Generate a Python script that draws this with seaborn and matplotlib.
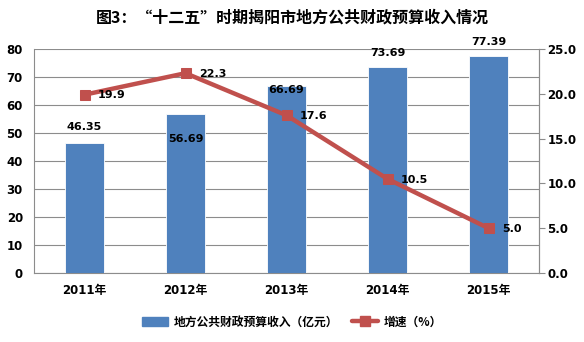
import numpy as np
import matplotlib
matplotlib.use("Agg")
import matplotlib.pyplot as plt
import seaborn as sns
from matplotlib.patches import Patch
from matplotlib.lines import Line2D

years = ["2011年", "2012年", "2013年", "2014年", "2015年"]
revenue = [46.35, 56.69, 66.69, 73.69, 77.39]
growth = [19.9, 22.3, 17.6, 10.5, 5.0]
revenue_labels = ["46.35", "56.69", "66.69", "73.69", "77.39"]
growth_labels = ["19.9", "22.3", "17.6", "10.5", "5.0"]

sns.set_style("white")
plt.rcParams['font.family'] = ['DejaVu Sans', 'Noto Sans CJK SC']
plt.rcParams['font.weight'] = 'bold'
plt.rcParams['text.color'] = 'black'
plt.rcParams['xtick.color'] = 'black'
plt.rcParams['ytick.color'] = 'black'

BAR = "#4F81BD"
LINE = "#C0504D"
GRID = "#8C8C8C"

fig = plt.figure(figsize=(5.84, 3.42), dpi=100)
ax = fig.add_axes([34/584, 1-273/342, (539-34)/584, (273-49)/342])

sns.barplot(x=years, y=revenue, color=BAR, saturation=1, width=0.39, ax=ax, zorder=3,
            edgecolor="white", linewidth=0.6)
ax.set_ylim(0, 80)
ax.set_yticks(np.arange(0, 81, 10))
ax.set_xlim(-0.5, 4.5)
ax.yaxis.grid(True, color=GRID, linewidth=0.8, zorder=0)
ax.set_axisbelow(True)
ax.set_xlabel("")
ax.set_ylabel("")
ax.spines["top"].set_visible(False)
for s in ["left", "bottom", "right"]:
    ax.spines[s].set_color(GRID)
    ax.spines[s].set_linewidth(0.8)
ax.tick_params(axis='y', length=0, labelsize=8.5, pad=8, labelcolor='black')
ax.tick_params(axis='x', length=0, labelsize=8.5, pad=8, labelcolor='black')
for lab in ax.get_xticklabels() + ax.get_yticklabels():
    lab.set_fontweight('bold')

ax2 = ax.twinx()
sns.lineplot(x=np.arange(len(growth)), y=growth, color=LINE, linewidth=3.2,
             marker='s', markersize=7, markeredgecolor=LINE, ax=ax2, zorder=5)
ax2.set_ylim(0, 25)
ax2.set_yticks(np.arange(0, 25.1, 5))
ax2.set_yticklabels([f"{v:.1f}" for v in np.arange(0, 25.1, 5)])
ax2.set_xlim(-0.5, 4.5)
ax2.set_ylabel("")
for s in ["top", "left", "bottom"]:
    ax2.spines[s].set_visible(False)
ax2.spines["right"].set_color(GRID)
ax2.spines["right"].set_linewidth(0.8)
ax2.tick_params(axis='y', length=4, color=GRID, labelsize=8.5, pad=2, labelcolor='black')
for lab in ax2.get_yticklabels():
    lab.set_fontweight('bold')

# bar labels
offsets = [11.5, -18, -3, 9.5, 10]
for i, (v, t) in enumerate(zip(revenue, revenue_labels)):
    ax.annotate(t, (i, v), xytext=(0, offsets[i]), textcoords='offset points',
                ha='center', va='center', fontsize=8, fontweight='bold', color='black', zorder=10)

# line labels
for i, (v, t) in enumerate(zip(growth, growth_labels)):
    ax2.annotate(t, (i, v), xytext=(9.5, -0.5), textcoords='offset points',
                 ha='left', va='center', fontsize=8, fontweight='bold', color='black', zorder=10)

fig.text(0.5, 1-17/342, "图3：“十二五”时期揭阳市地方公共财政预算收入情况",
         ha='center', va='center', fontsize=11.5, fontweight='bold', color='black',
         family=['Noto Sans CJK SC', 'DejaVu Sans'])

handles = [Patch(facecolor=BAR, edgecolor=BAR),
           Line2D([0], [0], color=LINE, linewidth=3.2, marker='s', markersize=7)]
leg = fig.legend(handles, ["地方公共财政预算收入（亿元）", "增速（%）"],
           loc='center', bbox_to_anchor=(0.5, 1-322/342), ncol=2, frameon=False,
           prop={'family': ['Noto Sans CJK SC', 'DejaVu Sans'], 'weight': 'bold', 'size': 8.5},
           handlelength=2.2, columnspacing=1.2, handletextpad=0.5)
for t in leg.get_texts():
    t.set_color('black')

fig.savefig("out.png", dpi=100)
